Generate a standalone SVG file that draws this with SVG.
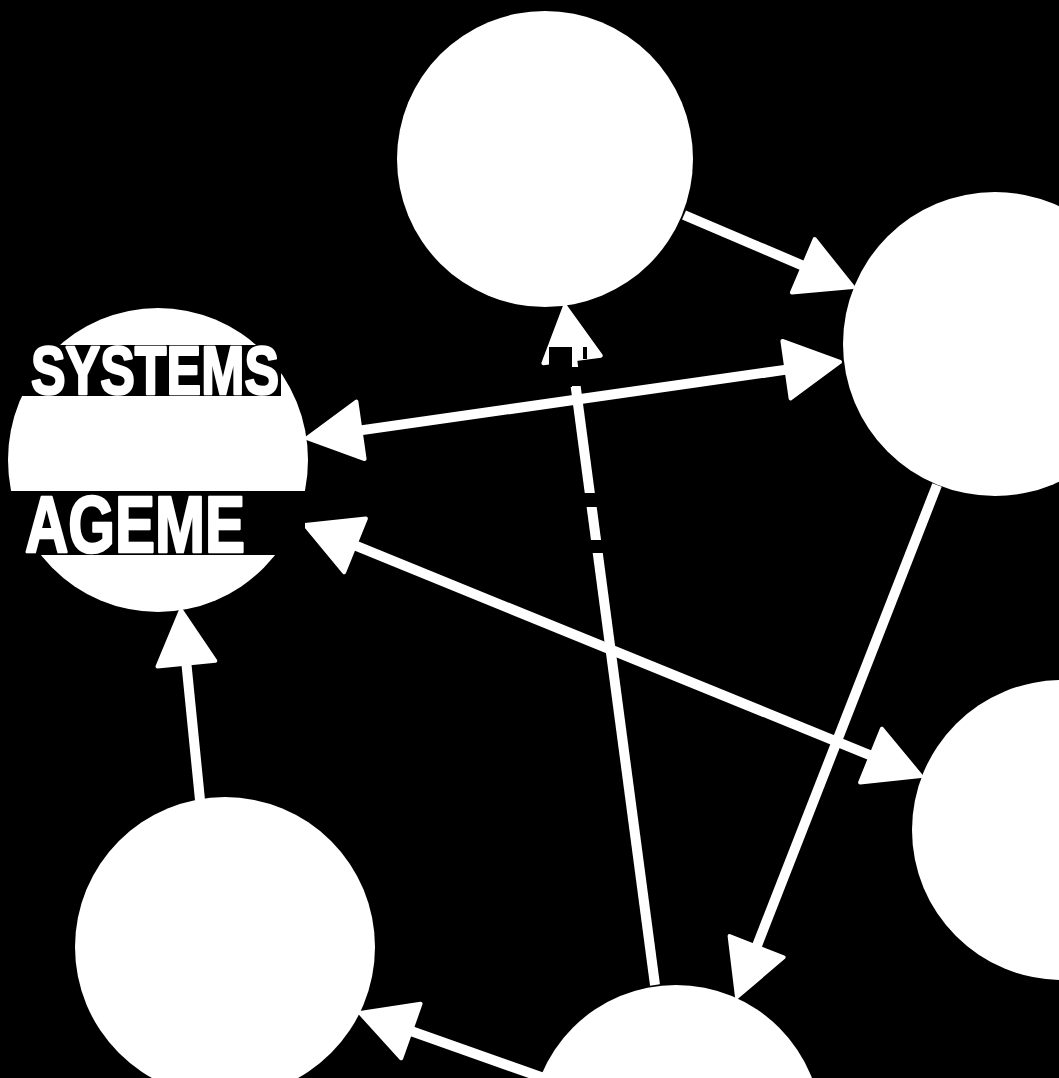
<svg xmlns="http://www.w3.org/2000/svg" width="1059" height="1078" viewBox="0 0 1059 1078">
  <style>
    .node { fill: #ffffff; }
    .conn { stroke: #ffffff; stroke-width: 10; fill: none; stroke-linecap: butt; }
    .head { fill: #ffffff; stroke: #ffffff; stroke-width: 4; stroke-linejoin: round; }
    .band { fill: #000000; }
    .label { fill: #ffffff; stroke: #ffffff; stroke-width: 2.5; stroke-linejoin: round; font-family: "Liberation Sans", Arial, sans-serif; font-weight: bold; }
  </style>
  <rect x="0" y="0" width="1059" height="1078" fill="#000000"/>

  <g id="connectors">
    <line class="conn" x1="684" y1="215" x2="803.3" y2="265.8"/>
    <polygon class="head" points="853,287 791.9,292.5 814.7,239.1"/>
    <line class="conn" x1="360.5" y1="430.4" x2="786.5" y2="369.6"/>
    <polygon class="head" points="307,438 356.4,401.7 364.6,459.1"/>
    <polygon class="head" points="840,362 790.6,398.3 782.4,340.9"/>
    <line class="conn" x1="655" y1="985" x2="572.1" y2="359.5"/>
    <polygon class="head" points="565,306 600.8,355.7 543.4,363.3"/>
    <line class="conn" x1="937" y1="485" x2="756.6" y2="946.7"/>
    <polygon class="head" points="737,997 729.6,936.1 783.6,957.3"/>
    <line class="conn" x1="355" y1="545.4" x2="871" y2="755.6"/>
    <polygon class="head" points="305,525 365.9,518.5 344.1,572.3"/>
    <polygon class="head" points="921,776 860.1,782.5 881.9,728.7"/>
    <line class="conn" x1="200" y1="800" x2="186.4" y2="663.7"/>
    <polygon class="head" points="181,610 215.3,660.8 157.5,666.6"/>
    <line class="conn" x1="555" y1="1082" x2="410.9" y2="1031"/>
    <polygon class="head" points="360,1013 420.6,1003.7 401.2,1058.3"/>
  </g>

  <g id="node-top"><circle class="node" cx="545" cy="159" r="148"/></g>
  <g id="node-right-upper"><circle class="node" cx="995" cy="344" r="152"/></g>
  <g id="node-systems">
    <ellipse class="node" cx="158" cy="460" rx="150" ry="152"/>
    <rect class="band" x="0" y="345" width="281" height="51"/>
    <text class="label" x="31" y="394" font-size="68" textLength="248" lengthAdjust="spacingAndGlyphs">SYSTEMS</text>
    <rect class="band" x="0" y="491" width="305" height="64"/>
    <text class="label" x="25" y="552" font-size="80" textLength="220" lengthAdjust="spacingAndGlyphs">AGEME</text>
  </g>
  <g id="node-right-middle"><circle class="node" cx="1062" cy="830" r="150"/></g>
  <g id="node-bottom-left"><circle class="node" cx="225" cy="947" r="150"/></g>
  <g id="node-bottom-center"><circle class="node" cx="676" cy="1131" r="146"/></g>

  <g id="band-fragments">
    <rect class="band" x="549" y="347" width="23" height="40"/>
    <rect class="band" x="566" y="367" width="22" height="19"/>
    <rect class="band" x="583" y="347" width="4" height="12"/>
    <rect class="band" x="580" y="493" width="30" height="14"/>
    <rect class="band" x="580" y="540" width="30" height="13"/>
  </g>
</svg>
